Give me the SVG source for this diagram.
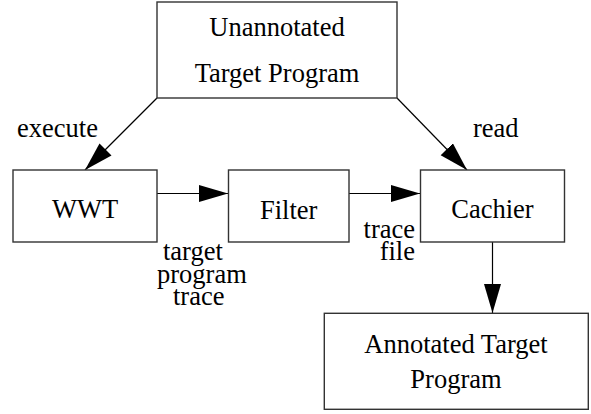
<svg xmlns="http://www.w3.org/2000/svg" width="591" height="414" viewBox="0 0 591 414">
  <style>
    .box { fill: #ffffff; stroke: #333333; stroke-width: 1.4; }
    .lbl { font-family: 'Liberation Serif', 'Times New Roman', Times, 'DejaVu Serif', serif; font-size: 26.5px; fill: #000000; }
    .mid { text-anchor: middle; }
    .end { text-anchor: end; }
    .conn { fill: none; stroke: #000000; stroke-width: 1.2; marker-end: url(#arrow); }
  </style>
  <defs>
    <marker id="arrow" markerUnits="userSpaceOnUse" markerWidth="30" markerHeight="18" refX="29" refY="8.5" orient="auto">
      <path d="M0,0 L29,8.5 L0,17 Z" fill="#000000"/>
    </marker>
  </defs>
  <rect width="591" height="414" fill="#ffffff"/>

  <g id="connectors">
    <line class="conn" x1="157" y1="98" x2="85" y2="170"/>
    <line class="conn" x1="397" y1="98" x2="467" y2="170"/>
    <line class="conn" x1="157" y1="193.5" x2="228" y2="193.5"/>
    <line class="conn" x1="349" y1="193.5" x2="420" y2="193.5"/>
    <line class="conn" x1="492.5" y1="242" x2="492.5" y2="313"/>
  </g>

  <g id="edge-labels" font-family="Liberation Serif, serif">
    <text class="lbl" x="17" y="137">execute</text>
    <text class="lbl" x="473" y="137">read</text>
    <text class="lbl" x="163" y="260">target</text>
    <text class="lbl" x="157" y="283">program</text>
    <text class="lbl" x="173" y="305">trace</text>
    <text class="lbl end" x="415" y="238">trace</text>
    <text class="lbl end" x="415" y="260">file</text>
  </g>

  <g id="unannotated">
    <rect class="box" x="157" y="2" width="240" height="96"/>
    <text class="lbl mid" x="277" y="36">Unannotated</text>
    <text class="lbl mid" x="277" y="82">Target Program</text>
  </g>

  <g id="wwt">
    <rect class="box" x="13" y="170" width="144" height="72"/>
    <text class="lbl mid" x="85" y="218">WWT</text>
  </g>

  <g id="filter">
    <rect class="box" x="228.5" y="170" width="120.5" height="72"/>
    <text class="lbl mid" x="288.7" y="219">Filter</text>
  </g>

  <g id="cachier">
    <rect class="box" x="420.5" y="170" width="144" height="72"/>
    <text class="lbl mid" x="492.5" y="218">Cachier</text>
  </g>

  <g id="annotated">
    <rect class="box" x="324.3" y="313.3" width="264" height="96"/>
    <text class="lbl mid" x="456" y="353">Annotated Target</text>
    <text class="lbl mid" x="456" y="388">Program</text>
  </g>
</svg>
